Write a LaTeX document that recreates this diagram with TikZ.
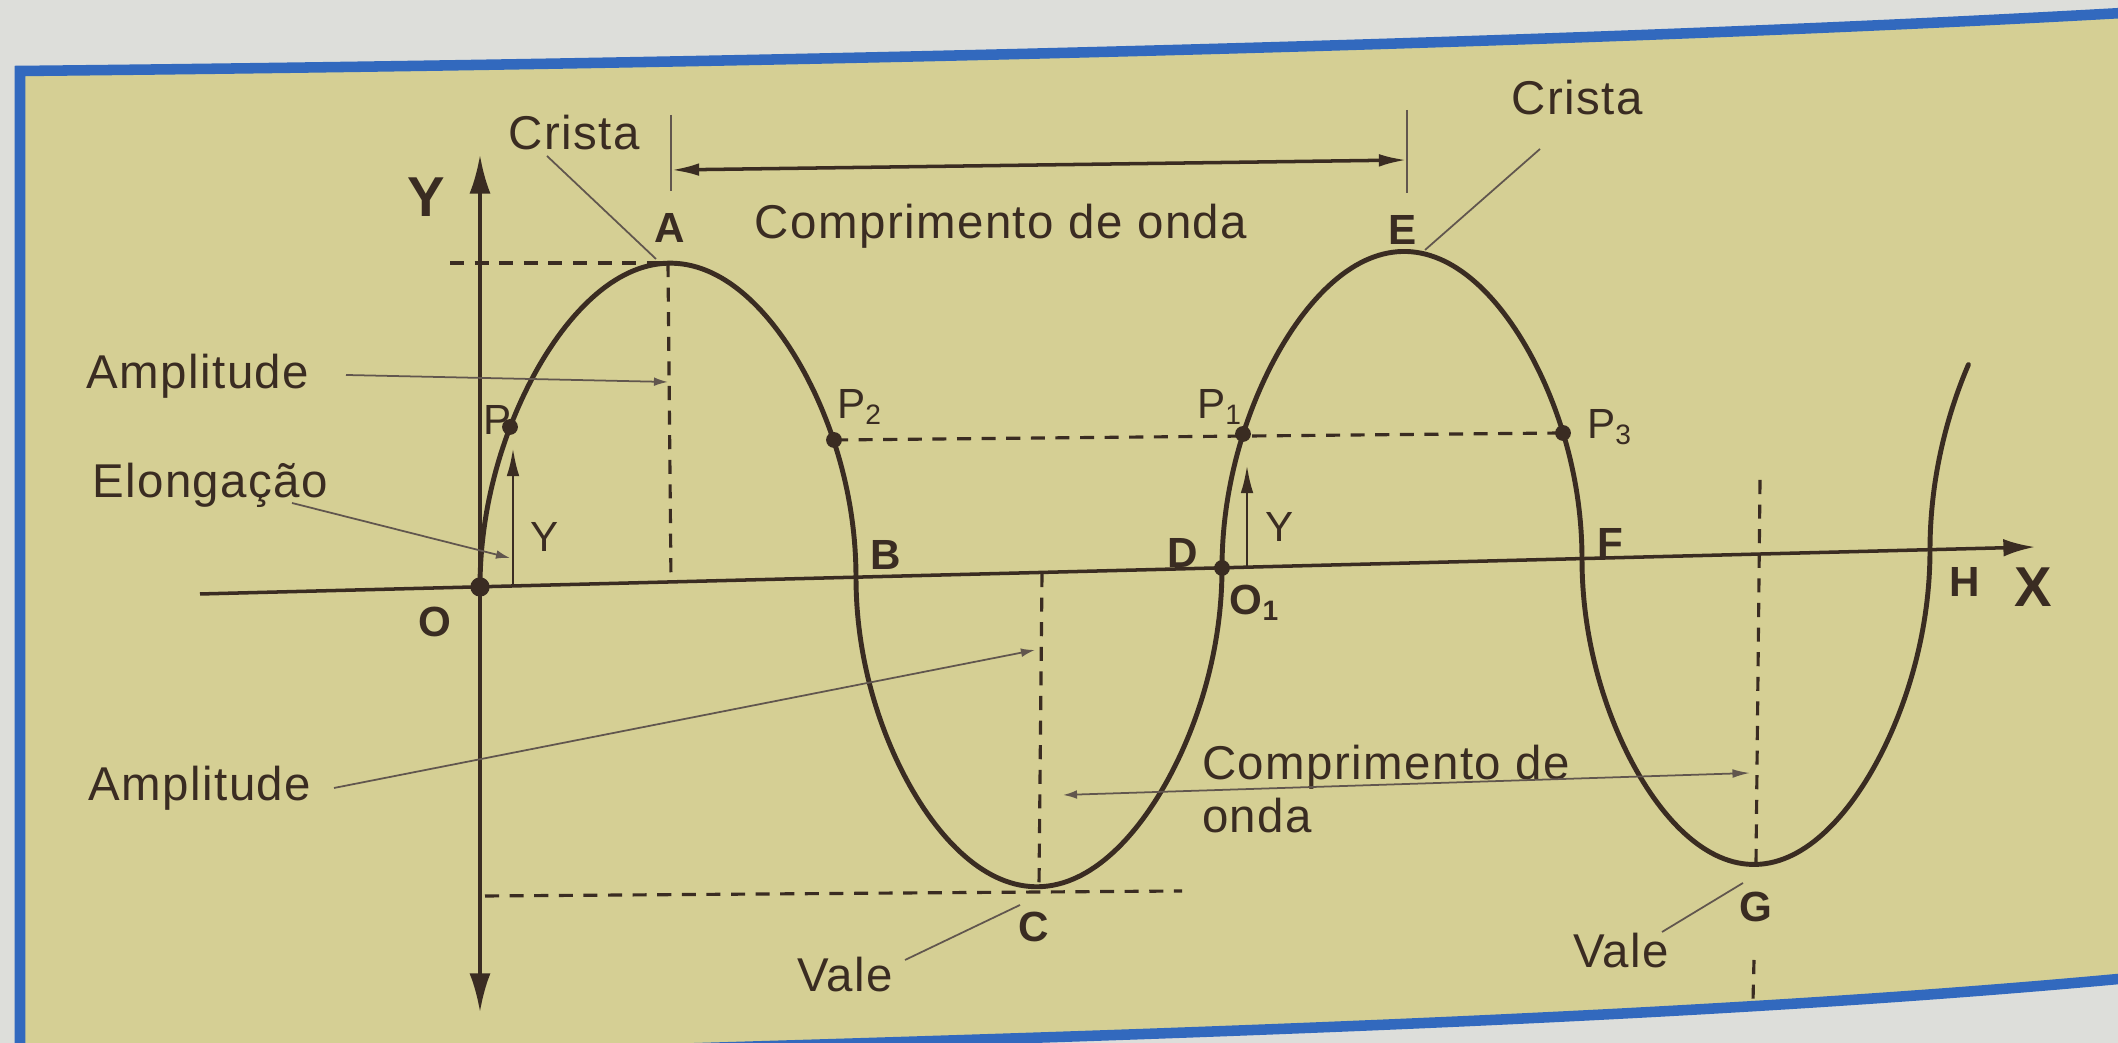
\documentclass[tikz,border=0pt]{standalone}
\usepackage{fontspec}
\setmainfont{Liberation Sans}[LetterSpace=3]
\usetikzlibrary{arrows.meta,positioning}
\definecolor{ink}{RGB}{58,44,34}
\definecolor{paper}{RGB}{213,207,148}
\definecolor{page}{RGB}{221,222,218}
\definecolor{frameblue}{RGB}{50,105,190}
\tikzset{>={Latex[length=8pt,width=3.6pt]}, font=\fontsize{13.5}{15}\selectfont}
\tikzstyle{frame} = [draw=frameblue, line width=3pt]
\tikzstyle{wave} = [draw=ink, line width=1.4pt, line cap=round]
\tikzstyle{axis} = [draw=ink, line width=1pt]
\tikzstyle{guide} = [draw=ink, line width=0.9pt, dash pattern=on 4pt off 3pt]
\tikzstyle{pointer} = [draw=ink!80, line width=0.5pt]
\tikzstyle{dot} = [draw=none, circle, fill=ink, minimum size=4.5pt, inner sep=0pt]
\tikzstyle{txt} = [text=ink, inner sep=1pt]
\tikzstyle{letter} = [text=ink, inner sep=1pt, font=\fontsize{12}{12}\selectfont\bfseries]
\tikzstyle{axislabel} = [text=ink, inner sep=1pt, font=\fontsize{16}{16}\selectfont\bfseries]

\begin{document}
\begin{tikzpicture}
	\useasboundingbox (0,0) rectangle (21.18,10.43);
	\clip (0,0) rectangle (21.18,10.43);
	% page and frame
	\fill[page] (0,0) rectangle (21.18,10.43);
	\fill[paper] (0.20,-0.2) -- (0.20,9.72) .. controls (8,9.8) and (16,10.0) .. (21.4,10.31) -- (21.4,0.66) .. controls (16,0.15) and (9,0.02) .. (2,-0.2) -- cycle;
	\draw[frame] (0.20,-0.2) -- (0.20,9.72) .. controls (8,9.8) and (16,10.0) .. (21.4,10.31);
	\draw[frame] (21.4,0.66) .. controls (16,0.15) and (9,0.02) .. (2,-0.2);

	% points of the wave
	\coordinate (O) at (4.80,4.56);
	\coordinate (A) at (6.68,7.80);
	\coordinate (B) at (8.56,4.66);
	\coordinate (C) at (10.39,1.56);
	\coordinate (D) at (12.22,4.75);
	\coordinate (E) at (14.02,7.92);
	\coordinate (F) at (15.82,4.84);
	\coordinate (G) at (17.56,1.79);
	\coordinate (H) at (19.30,4.93);
	\coordinate (P) at (5.10,6.16);
	\coordinate (P2) at (8.34,6.03);
	\coordinate (P1) at (12.43,6.09);
	\coordinate (P3) at (15.63,6.10);

	% axes
	\coordinate (x-start) at (2.00,4.49);
	\coordinate (x-end) at (20.35,4.96);
	\coordinate (y-start) at (4.80,0.31);
	\coordinate (y-end) at (4.80,8.88);
	\draw[axis, -{Latex[length=9pt,width=5pt]}] (x-start) -- (x-end);
	\draw[axis, {Latex[length=11pt,width=6pt]}-{Latex[length=11pt,width=6pt]}] (y-start) -- (y-end);

	% guide lines
	\coordinate (A-left) at (4.50,7.80);
	\coordinate (A-foot) at (6.71,4.62);
	\coordinate (C-top) at (10.42,4.70);
	\coordinate (C-left) at (4.85,1.47);
	\coordinate (C-right) at (11.82,1.52);
	\coordinate (G-top) at (17.60,5.63);
	\coordinate (G-low) at (17.54,0.83);
	\coordinate (G-bottom) at (17.53,0.42);
	\draw[guide] (A-left) -- (A);
	\draw[guide] (A) -- (A-foot);
	\draw[guide] (P2) -- (P3);
	\draw[guide] (C-top) -- (C);
	\draw[guide] (C-left) -- (C-right);
	\draw[guide] (G-top) -- (G);
	\draw[guide] (G-low) -- (G-bottom);

	% wave
	\foreach \xa/\xb/\amp in {4.80/8.56/3.19, 8.56/12.22/-3.14, 12.22/15.82/3.12, 15.82/19.30/-3.10}
		\draw[wave] plot[variable=\u, domain=0:180, samples=121]
			({\xa+(\xb-\xa)*(1-cos(\u))/2},
			 {4.56+0.0255*(\xa+(\xb-\xa)*(1-cos(\u))/2-4.80)+(\amp)*sqrt(abs(sin(90*(1-cos(\u)))))});
	\draw[wave] plot[variable=\u, domain=0:39, samples=40]
		({19.30+3.45*(1-cos(\u))/2},
		 {4.56+0.0255*(19.30+3.45*(1-cos(\u))/2-4.80)+3.15*sqrt(abs(sin(90*(1-cos(\u)))))});

	% dots
	\node[dot, minimum size=5.5pt] (O-dot) at (O) {};
	\node[dot] (D-dot) at (D) {};
	\node[dot] (P-dot) at (P) {};
	\node[dot] (P2-dot) at (P2) {};
	\node[dot] (P1-dot) at (P1) {};
	\node[dot] (P3-dot) at (P3) {};

	% elongations
	\coordinate (P-foot) at (5.13,4.57);
	\coordinate (P-tip) at (5.13,5.95);
	\coordinate (P1-foot) at (12.47,4.76);
	\coordinate (P1-tip) at (12.47,5.78);
	\draw[axis, line width=0.8pt, ->] (P-foot) -- (P-tip);
	\draw[axis, line width=0.8pt, ->] (P1-foot) -- (P1-tip);

	% wavelength on top
	\coordinate (lam-l-top) at (6.71,9.28);
	\coordinate (lam-l-bot) at (6.71,8.52);
	\coordinate (lam-r-top) at (14.07,9.33);
	\coordinate (lam-r-bot) at (14.07,8.50);
	\coordinate (lam-l) at (6.71,8.73);
	\coordinate (lam-r) at (14.07,8.83);
	\draw[pointer, line width=0.7pt] (lam-l-top) -- (lam-l-bot);
	\draw[pointer, line width=0.7pt] (lam-r-top) -- (lam-r-bot);
	\draw[axis, <->] (lam-l) -- (lam-r);

	% letters
	\node[axislabel] (Y-label) at (4.26,8.46) {Y};
	\node[axislabel] (X-label) at (20.33,4.56) {X};
	\node[letter] (O-label) at (4.35,4.21) {O};
	\node[letter] (A-label) at (6.70,8.15) {A};
	\node[letter] (B-label) at (8.86,4.88) {B};
	\node[letter] (C-label) at (10.34,1.16) {C};
	\node[letter] (D-label) at (11.83,4.90) {D};
	\node[letter] (E-label) at (14.03,8.13) {E};
	\node[letter] (F-label) at (16.10,5.00) {F};
	\node[letter] (G-label) at (17.56,1.36) {G};
	\node[letter] (H-label) at (19.65,4.61) {H};
	\node[letter] (O1-label) at (12.55,4.40) {O\textsubscript{1}};
	\node[txt, font=\fontsize{12}{12}\selectfont] (P-label) at (4.98,6.23) {P};
	\node[txt, font=\fontsize{12}{12}\selectfont] (P2-label) at (8.60,6.36) {P\textsubscript{2}};
	\node[txt, font=\fontsize{12}{12}\selectfont] (P1-label) at (12.20,6.36) {P\textsubscript{1}};
	\node[txt, font=\fontsize{12}{12}\selectfont] (P3-label) at (16.10,6.16) {P\textsubscript{3}};
	\node[txt, font=\fontsize{12}{12}\selectfont] (Y1-label) at (5.45,5.06) {Y};
	\node[txt, font=\fontsize{12}{12}\selectfont] (Y2-label) at (12.80,5.16) {Y};

	% texts and pointers
	\node[txt] (lambda-top) at (10.01,8.17) {Comprimento de onda};
	\node[txt] (crista-a) at (5.74,9.10) {Crista};
	\node[txt] (crista-e) at (15.77,9.45) {Crista};
	\node[txt] (ampl-top) at (1.98,6.67) {Amplitude};
	\node[txt] (elong) at (2.10,5.58) {Elongação};
	\node[txt] (ampl-bottom) at (2.00,2.55) {Amplitude};
	\node[txt, align=left, anchor=west] (lambda-bottom) at (11.98,2.54) {Comprimento de\\onda};
	\node[txt] (vale-c) at (8.45,0.68) {Vale};
	\node[txt] (vale-g) at (16.21,0.92) {Vale};

	\coordinate (crista-a-start) at (5.47,8.87);
	\coordinate (crista-a-end) at (6.56,7.84);
	\coordinate (crista-e-start) at (15.40,8.94);
	\coordinate (crista-e-end) at (14.25,7.93);
	\coordinate (ampl-top-start) at (3.46,6.68);
	\coordinate (ampl-top-end) at (6.68,6.61);
	\coordinate (elong-start) at (2.92,5.40);
	\coordinate (elong-end) at (5.10,4.85);
	\coordinate (ampl-bottom-start) at (3.34,2.55);
	\coordinate (ampl-bottom-end) at (10.35,3.93);
	\coordinate (lam2-l) at (10.63,2.48);
	\coordinate (lam2-r) at (17.50,2.70);
	\coordinate (vale-c-start) at (9.05,0.83);
	\coordinate (vale-c-end) at (10.20,1.38);
	\coordinate (vale-g-start) at (16.62,1.11);
	\coordinate (vale-g-end) at (17.43,1.60);

	\draw[pointer] (crista-a-start) -- (crista-a-end);
	\draw[pointer] (crista-e-start) -- (crista-e-end);
	\draw[pointer, -{Latex[length=4pt,width=2.5pt]}] (ampl-top-start) -- (ampl-top-end);
	\draw[pointer, -{Latex[length=4pt,width=2.5pt]}] (elong-start) -- (elong-end);
	\draw[pointer, -{Latex[length=4pt,width=2.5pt]}] (ampl-bottom-start) -- (ampl-bottom-end);
	\draw[pointer, {Latex[length=4pt,width=2.5pt]}-{Latex[length=5pt,width=2.5pt]}] (lam2-l) -- (lam2-r);
	\draw[pointer] (vale-c-start) -- (vale-c-end);
	\draw[pointer] (vale-g-start) -- (vale-g-end);
\end{tikzpicture}
\end{document}
